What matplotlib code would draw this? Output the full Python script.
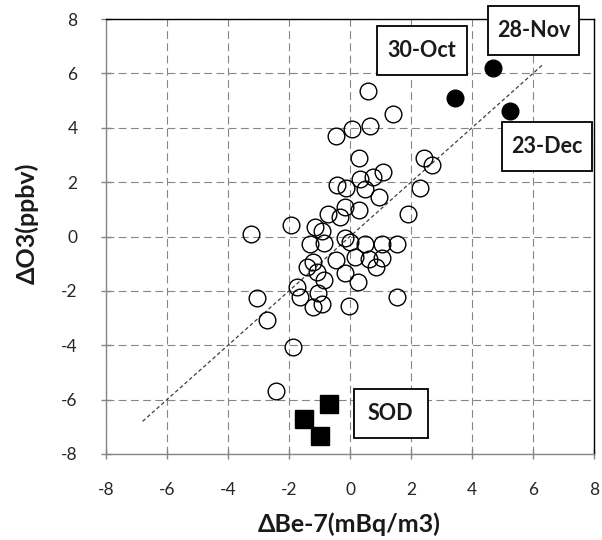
import matplotlib
matplotlib.use("Agg")
import matplotlib.pyplot as plt
from matplotlib.patches import Rectangle
from matplotlib.transforms import ScaledTranslation

# open circles : all days
be7 = [0.60, 1.42, 0.66, 0.06, -0.46, 0.31, 2.43, 2.68, 1.07, 0.74,
       0.33, -0.44, -0.14, 0.49, 2.30, 0.96, -0.16, -0.71, -0.33, 0.31,
       1.91, -1.94, -3.26, -1.15, -0.91, -0.16, 0.00, -1.31, -0.85, 0.49,
       1.04, 1.53, -0.46, 0.16, 0.63, 1.04, 0.85, -1.20, -1.42, -1.07,
       -0.16, -0.85, 0.27, -1.75, -1.64, -3.06, -1.04, -0.93, -1.22, -0.03,
       1.55, -2.71, -1.88, -2.43]
o3 = [5.37, 4.50, 4.08, 3.96, 3.68, 2.88, 2.90, 2.63, 2.36, 2.20,
      2.12, 1.90, 1.78, 1.75, 1.78, 1.44, 1.10, 0.83, 0.73, 0.98,
      0.83, 0.42, 0.09, 0.36, 0.21, -0.07, -0.19, -0.29, -0.25, -0.28,
      -0.28, -0.29, -0.87, -0.77, -0.83, -0.80, -1.11, -0.93, -1.11, -1.30,
      -1.36, -1.60, -1.69, -1.87, -2.24, -2.28, -2.09, -2.49, -2.58, -2.56,
      -2.22, -3.08, -4.08, -5.69]

# filled circles : events
evt_be7 = [3.44, 4.70, 5.25]
evt_o3 = [5.09, 6.19, 4.60]

# filled squares : SOD
sod_be7 = [-0.69, -1.51, -0.98]
sod_o3 = [-6.17, -6.70, -7.35]

# regression line
fit_slope = 1.0
fit_icpt = 0.0
fit_x = [-6.8, 6.3]

# labels (text, x, y, box width px)
labels = ["30-Oct", "28-Nov", "23-Dec", "SOD"]
lab_x = [2.35, 6.03, 6.45, 1.33]
lab_y = [6.83, 7.57, 3.30, -6.50]
lab_w = [90, 91, 90, 74]

ticks = [-8, -6, -4, -2, 0, 2, 4, 6, 8]

plt.rcParams['font.family'] = ['Lato', 'DejaVu Sans']
plt.rcParams['axes.unicode_minus'] = False

fig = plt.figure(figsize=(6.02, 5.4), dpi=100)
ax = fig.add_axes([106/602, 1-454/540, 488/602, 435/540])

ax.set_xlim(-8, 8)
ax.set_ylim(-8, 8)
ax.set_xticks(ticks)
ax.set_yticks(ticks)
ax.grid(True, color='#868686', lw=0.8, linestyle=(0, (7, 4)))
ax.set_axisbelow(True)

ax.plot(fit_x, [fit_slope*v + fit_icpt for v in fit_x], color='#404040',
        lw=0.9, linestyle=(0, (3, 2)), zorder=2)

ax.plot(be7, o3, 'o', ms=12, mfc='none', mec='black', mew=1.0, zorder=3)
ax.plot(evt_be7, evt_o3, 'o', ms=12, mfc='black', mec='black', zorder=3)
ax.plot(sod_be7, sod_o3, 's', ms=13, mfc='black', mec='black', zorder=3)

for t, x, y, w in zip(labels, lab_x, lab_y, lab_w):
    tr = fig.dpi_scale_trans + ScaledTranslation(x, y, ax.transData)
    ax.add_patch(Rectangle((-w/200, -0.245), w/100, 0.49, transform=tr,
                           facecolor='white', edgecolor='black', lw=1.3,
                           clip_on=False, zorder=5))
    ax.text(x, y, t, ha='center', va='center', fontsize=15.5,
            fontweight='bold', color='#1a1a1a', zorder=6, clip_on=False)

for s in ['left', 'bottom']:
    ax.spines[s].set_color('#868686')
for s in ['top', 'right']:
    ax.spines[s].set_color('black')
for s in ax.spines.values():
    s.set_linewidth(1.0)

ax.tick_params(direction='inout', length=7, width=1, color='#868686',
               labelsize=12.5, labelcolor='#262626', pad=17)

ax.set_xlabel("ΔBe-7(mBq/m3)", fontsize=18, fontweight='bold', color='#1a1a1a',
              va='center')
ax.set_ylabel("ΔO3(ppbv)", fontsize=18, fontweight='bold', color='#1a1a1a',
              va='center')
ax.xaxis.set_label_coords(0.498, -0.162)
ax.yaxis.set_label_coords(-0.162, 0.531)

fig.savefig("out.png", dpi=100)
